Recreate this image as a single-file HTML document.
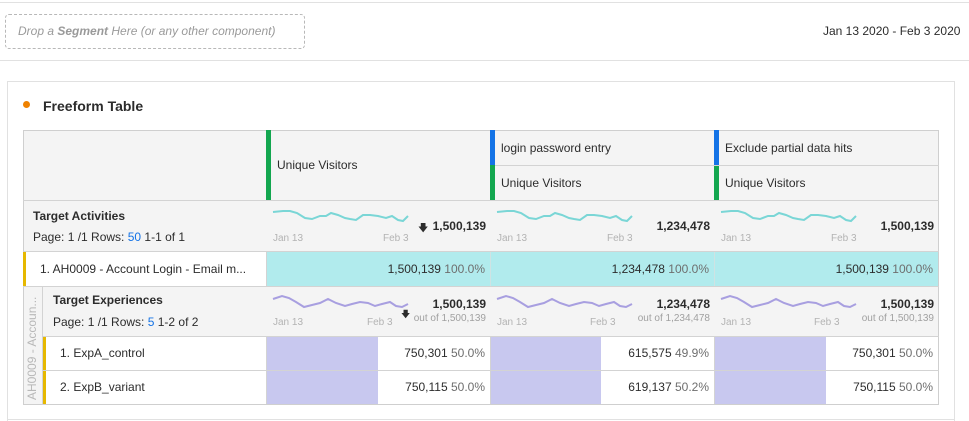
<!DOCTYPE html>
<html><head><meta charset="utf-8"><style>
*{margin:0;padding:0;box-sizing:border-box}
body{width:969px;height:421px;background:#fff;font-family:"Liberation Sans",sans-serif;color:#2c2c2c;position:relative;overflow:hidden;font-size:12px}
.a{position:absolute;white-space:nowrap}
.g{background:#f4f4f4}
.b{font-weight:bold}
.sm{font-size:10px;color:#b3b3b3}
.r{text-align:right}
</style></head><body>
<div class="a" style="left:0;top:2px;width:969px;height:1px;background:#e1e1e1"></div>
<div class="a" style="left:5px;top:14px;width:300px;height:35px;border:1px dashed #b8b8b8;border-radius:4px"></div>
<div class="a" style="left:18px;top:24px;font-style:italic;color:#9a9a9a;font-size:12px">Drop a <b>Segment</b> Here (or any other component)</div>
<div class="a" style="left:823px;top:24px;font-size:12px;color:#2c2c2c">Jan 13 2020 - Feb 3 2020</div>
<div class="a" style="left:0;top:60px;width:969px;height:1px;background:#e1e1e1"></div>
<div class="a" style="left:7px;top:81px;width:948px;height:340px;border:1px solid #e1e1e1;border-bottom:none"></div>
<div class="a" style="left:7px;top:419px;width:948px;height:1px;background:#e1e1e1"></div>
<div class="a" style="left:23px;top:101px;width:7px;height:7px;border-radius:50%;background:#ef8200"></div>
<div class="a b" style="left:43px;top:98px;font-size:14px;color:#2c2c2c">Freeform Table</div>

<div class="a g" style="left:23px;top:130px;width:916px;height:275px;border:1px solid #cfcfcf"></div>
<div class="a" style="left:23px;top:200px;width:916px;height:1px;background:#d3d3d3"></div>
<div class="a" style="left:490px;top:130px;width:1px;height:70px;background:#d3d3d3"></div>
<div class="a" style="left:714px;top:130px;width:1px;height:70px;background:#d3d3d3"></div>
<div class="a" style="left:266px;top:130px;width:5px;height:70px;background:#12a64f"></div>
<div class="a" style="left:490px;top:130px;width:5px;height:35px;background:#1473e6"></div>
<div class="a" style="left:490px;top:165px;width:5px;height:35px;background:#12a64f"></div>
<div class="a" style="left:714px;top:130px;width:5px;height:35px;background:#1473e6"></div>
<div class="a" style="left:714px;top:165px;width:5px;height:35px;background:#12a64f"></div>
<div class="a" style="left:495px;top:165px;width:444px;height:1px;background:#d3d3d3"></div>
<div class="a" style="left:277px;top:158px">Unique Visitors</div>
<div class="a" style="left:501px;top:141px">login password entry</div>
<div class="a" style="left:501px;top:176px">Unique Visitors</div>
<div class="a" style="left:725px;top:141px">Exclude partial data hits</div>
<div class="a" style="left:725px;top:176px">Unique Visitors</div>

<div class="a b" style="left:33px;top:209px">Target Activities</div>
<div class="a" style="left:33px;top:230px">Page: 1 /1 Rows: <span style="color:#1473e6">50</span> 1-1 of 1</div>
<svg class="a" style="left:0;top:0" width="969" height="421">
<g fill="none" stroke="#7ad6d6" stroke-width="2">
<polyline id="s1" points="273,212 283,211 290,211 297,213 305,218 312,219 320,216 326,216 331,213 338,215 345,218 350,219 356,220 363,215 370,215 378,216 386,218 392,216 398,220 403,221 408,216"/>
<use href="#s1" x="224"/><use href="#s1" x="448"/>
</g>
<g fill="none" stroke="#a89fe0" stroke-width="2">
<polyline id="s2" points="273,299 282,296 289,298 296,302 304,307 312,305 320,303 328,299 336,303 345,306 352,304 360,302 368,303 375,306 382,304 390,302 396,306 402,307 408,304"/>
<use href="#s2" x="224"/><use href="#s2" x="448"/>
</g>
</svg>
<div class="a sm" style="left:273px;top:233px">Jan 13</div><div class="a sm" style="left:383px;top:233px">Feb 3</div>
<div class="a sm" style="left:497px;top:233px">Jan 13</div><div class="a sm" style="left:607px;top:233px">Feb 3</div>
<div class="a sm" style="left:721px;top:233px">Jan 13</div><div class="a sm" style="left:831px;top:233px">Feb 3</div>
<div class="a" style="left:418px;top:221px;font-size:10px">&#129095;</div>
<div class="a b r" style="left:386px;top:219px;width:100px">1,500,139</div>
<div class="a b r" style="left:610px;top:219px;width:100px">1,234,478</div>
<div class="a b r" style="left:834px;top:219px;width:100px">1,500,139</div>

<div class="a" style="left:23px;top:251px;width:916px;height:1px;background:#d3d3d3"></div>
<div class="a" style="left:24px;top:252px;width:242px;height:34px;background:#fff"></div>
<div class="a" style="left:23px;top:252px;width:3px;height:34px;background:#e6b800"></div>
<div class="a" style="left:267px;top:252px;width:671px;height:34px;background:#b1ebed"></div>
<div class="a" style="left:266px;top:252px;width:1px;height:34px;background:#d3d3d3"></div>
<div class="a" style="left:490px;top:252px;width:1px;height:34px;background:#cfe3e3"></div>
<div class="a" style="left:714px;top:252px;width:1px;height:34px;background:#cfe3e3"></div>
<div class="a" style="left:40px;top:262px">1. AH0009 - Account Login - Email m...</div>
<div class="a r" style="left:330px;top:262px;width:155px">1,500,139 <span style="color:#6e6e6e">100.0%</span></div>
<div class="a r" style="left:554px;top:262px;width:155px">1,234,478 <span style="color:#6e6e6e">100.0%</span></div>
<div class="a r" style="left:778px;top:262px;width:155px">1,500,139 <span style="color:#6e6e6e">100.0%</span></div>
<div class="a" style="left:23px;top:286px;width:916px;height:1px;background:#d3d3d3"></div>

<div class="a" style="left:42px;top:287px;width:1px;height:118px;background:#d3d3d3"></div>
<div class="a" style="left:25px;top:400px;transform:rotate(-90deg);transform-origin:0 0;color:#b8b8b8;font-size:12px">AH0009 - Accoun...</div>

<div class="a b" style="left:53px;top:293px">Target Experiences</div>
<div class="a" style="left:53px;top:315px">Page: 1 /1 Rows: <span style="color:#1473e6">5</span> 1-2 of 2</div>
<div class="a sm" style="left:273px;top:317px">Jan 13</div><div class="a sm" style="left:367px;top:317px">Feb 3</div>
<div class="a sm" style="left:497px;top:317px">Jan 13</div><div class="a sm" style="left:590px;top:317px">Feb 3</div>
<div class="a sm" style="left:721px;top:317px">Jan 13</div><div class="a sm" style="left:814px;top:317px">Feb 3</div>
<div class="a" style="left:401px;top:307px;font-size:9px">&#129095;</div>
<div class="a b r" style="left:386px;top:297px;width:100px">1,500,139</div>
<div class="a sm r" style="left:386px;top:313px;width:100px;color:#a0a0a0">out of 1,500,139</div>
<div class="a b r" style="left:610px;top:297px;width:100px">1,234,478</div>
<div class="a sm r" style="left:610px;top:313px;width:100px;color:#a0a0a0">out of 1,234,478</div>
<div class="a b r" style="left:834px;top:297px;width:100px">1,500,139</div>
<div class="a sm r" style="left:834px;top:313px;width:100px;color:#a0a0a0">out of 1,500,139</div>
<div class="a" style="left:43px;top:336px;width:896px;height:1px;background:#d3d3d3"></div>

<div class="a" style="left:43px;top:337px;width:895px;height:67px;background:#fff"></div>
<div class="a" style="left:43px;top:337px;width:3px;height:67px;background:#e6b800"></div>
<div class="a" style="left:267px;top:337px;width:111px;height:67px;background:#c8c8ef"></div>
<div class="a" style="left:491px;top:337px;width:110px;height:67px;background:#c8c8ef"></div>
<div class="a" style="left:715px;top:337px;width:111px;height:67px;background:#c8c8ef"></div>
<div class="a" style="left:266px;top:337px;width:1px;height:67px;background:#d3d3d3"></div>
<div class="a" style="left:490px;top:337px;width:1px;height:67px;background:#d3d3d3"></div>
<div class="a" style="left:714px;top:337px;width:1px;height:67px;background:#d3d3d3"></div>
<div class="a" style="left:43px;top:370px;width:896px;height:1px;background:#d3d3d3"></div>
<div class="a" style="left:60px;top:346px">1. ExpA_control</div>
<div class="a" style="left:60px;top:380px">2. ExpB_variant</div>
<div class="a r" style="left:330px;top:346px;width:155px">750,301 <span style="color:#6e6e6e">50.0%</span></div>
<div class="a r" style="left:554px;top:346px;width:155px">615,575 <span style="color:#6e6e6e">49.9%</span></div>
<div class="a r" style="left:778px;top:346px;width:155px">750,301 <span style="color:#6e6e6e">50.0%</span></div>
<div class="a r" style="left:330px;top:380px;width:155px">750,115 <span style="color:#6e6e6e">50.0%</span></div>
<div class="a r" style="left:554px;top:380px;width:155px">619,137 <span style="color:#6e6e6e">50.2%</span></div>
<div class="a r" style="left:778px;top:380px;width:155px">750,115 <span style="color:#6e6e6e">50.0%</span></div>
</body></html>
